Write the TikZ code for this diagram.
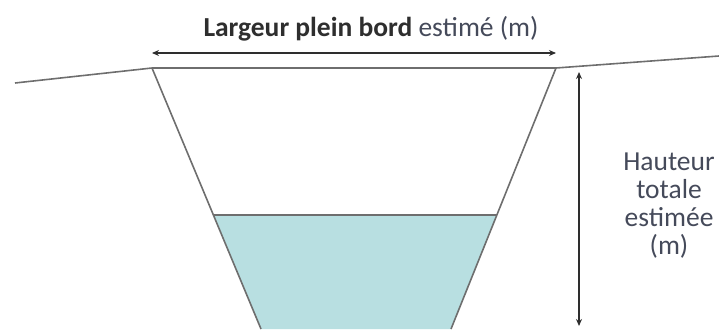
\documentclass[tikz,border=0pt]{standalone}
\usepackage{fontspec}
\setmainfont{Carlito}
\usetikzlibrary{arrows.meta}
\definecolor{water}{HTML}{B8DFE1}
\definecolor{bank}{HTML}{6E6E6E}
\definecolor{dim}{HTML}{2E2E2E}
\definecolor{lbl}{HTML}{454A5A}
\tikzset{
  bankline/.style={draw=bank, line width=1.6pt, line join=round},
  dimline/.style={draw=dim, line width=1.3pt, {Stealth[length=7pt,width=6pt]}-{Stealth[length=7pt,width=6pt]}},
  lbltext/.style={font=\fontsize{27.5}{28}\selectfont, text=lbl, align=center, inner sep=0pt}
}
\begin{document}
\begin{tikzpicture}[x=1pt,y=-1pt]
\useasboundingbox (0,0) rectangle (719,329);
% key points
\coordinate (g0) at (15,83);
\coordinate (tl) at (152,68);
\coordinate (tr) at (556,68);
\coordinate (g1) at (719,56);
\coordinate (wl) at (214,215);
\coordinate (wr) at (497,215);
\coordinate (bl) at (261,329);
\coordinate (br) at (451,329);
% water
\fill[water] (wl) -- (wr) -- (br) -- (bl) -- cycle;
\draw[bankline] (wl) -- (wr);
% ground and banks
\draw[bankline] (g0) -- (tl) -- (tr) -- (g1);
\draw[bankline] (tl) -- (bl);
\draw[bankline] (tr) -- (br);
% width dimension
\coordinate (wa) at (152,53);
\coordinate (wb) at (556,53);
\draw[dimline] (wa) -- (wb);
\node[lbltext, text=dim, anchor=base] (wlab) at (371,37) {\textbf{Largeur plein bord} {\color{lbl}estimé (m)}};
% height dimension
\coordinate (ha) at (579,72);
\coordinate (hb) at (579,326);
\draw[dimline] (ha) -- (hb);
\node[lbltext] (hlab) at (669,206) {Hauteur\\totale\\estimée\\(m)};
\end{tikzpicture}
\end{document}
